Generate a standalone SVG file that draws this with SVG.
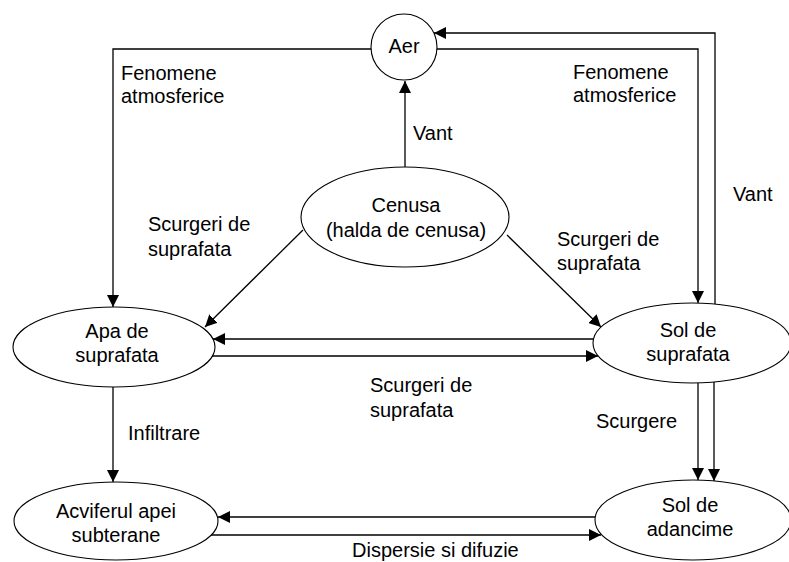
<svg xmlns="http://www.w3.org/2000/svg" width="789" height="562" viewBox="0 0 789 562">
<defs>
<marker id="ah" markerUnits="userSpaceOnUse" markerWidth="12" markerHeight="12" viewBox="0 0 12 12" refX="12" refY="6" orient="auto">
<path d="M0,0 L12,6 L0,12 Z" fill="#000"/>
</marker>
<style>
.n{fill:#fff;stroke:#000;stroke-width:1.1}
.c{fill:none;stroke:#000;stroke-width:1.3;marker-end:url(#ah)}
text{font-family:"Liberation Sans",Arial,sans-serif;font-size:20px;fill:#000}
.m{text-anchor:middle}
</style>
</defs>
<rect width="789" height="562" fill="#fff"/>
<g id="connectors">
<path class="c" d="M405 167 V81"/>
<path class="c" d="M371 49 H113 V307"/>
<path class="c" d="M437 49 H698 V303"/>
<path class="c" d="M715 304 V33 H434"/>
<path class="c" d="M303 230 L205 327"/>
<path class="c" d="M507 235 L601 327"/>
<path class="c" d="M594 339 H213"/>
<path class="c" d="M212 356 H598"/>
<path class="c" d="M113 387 V482"/>
<path class="c" d="M698 383 V480"/>
<path class="c" d="M714 382 V481"/>
<path class="c" d="M595 517 H218"/>
<path class="c" d="M211 535 H601"/>
</g>
<g id="labels">
<text x="121" y="80">Fenomene</text>
<text x="121" y="103">atmosferice</text>
<text x="573" y="79">Fenomene</text>
<text x="573" y="102">atmosferice</text>
<text x="413" y="140">Vant</text>
<text x="733" y="201">Vant</text>
<text x="148" y="231">Scurgeri de</text>
<text x="148" y="256">suprafata</text>
<text x="557" y="246">Scurgeri de</text>
<text x="557" y="270">suprafata</text>
<text x="370" y="392">Scurgeri de</text>
<text x="370" y="417">suprafata</text>
<text x="128" y="440">Infiltrare</text>
<text x="596" y="428">Scurgere</text>
<text x="352" y="557">Dispersie si difuzie</text>
</g>
<g id="aer">
<circle class="n" cx="404" cy="47" r="33"/>
<text class="m" x="404" y="53">Aer</text>
</g>
<g id="cenusa">
<ellipse class="n" cx="405" cy="217" rx="104" ry="50"/>
<text class="m" x="406" y="212">Cenusa</text>
<text class="m" x="406" y="237">(halda de cenusa)</text>
</g>
<g id="apa">
<ellipse class="n" cx="114" cy="347" rx="101" ry="40"/>
<text class="m" x="117" y="338">Apa de</text>
<text class="m" x="117" y="362">suprafata</text>
</g>
<g id="solsup">
<ellipse class="n" cx="692" cy="343" rx="99" ry="40"/>
<text class="m" x="688" y="337">Sol de</text>
<text class="m" x="688" y="361">suprafata</text>
</g>
<g id="acvifer">
<ellipse class="n" cx="116" cy="521" rx="102" ry="39"/>
<text class="m" x="116" y="518">Acviferul apei</text>
<text class="m" x="116" y="542">subterane</text>
</g>
<g id="soladanc">
<ellipse class="n" cx="693" cy="520" rx="98" ry="40"/>
<text class="m" x="690" y="512">Sol de</text>
<text class="m" x="690" y="536">adancime</text>
</g>
</svg>
